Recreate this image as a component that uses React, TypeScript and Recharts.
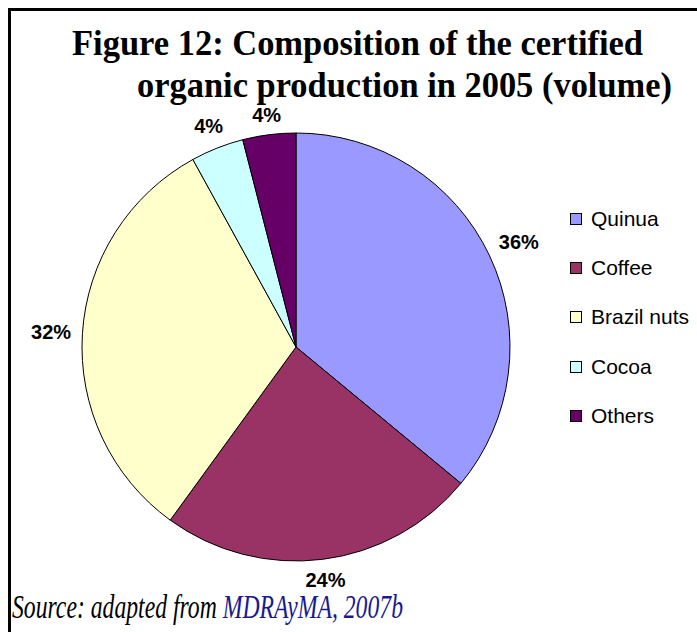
import { PieChart, Pie, Cell, Legend } from 'recharts';

const categories = ['Quinua', 'Coffee', 'Brazil nuts', 'Cocoa', 'Others'];
const shares = [36, 24, 32, 4, 4];
const sliceColors = ['#9999FF', '#993366', '#FFFFCC', '#CCFFFF', '#660066'];

const data = categories.map((name, i) => ({ name, value: shares[i] }));

const RAD = Math.PI / 180;
const LABEL_SIZE = 20;

// excel style: label box sits a fixed gap outside the rim
function renderLabel(props: any) {
  const { cx, cy, midAngle, outerRadius, value } = props;
  const c = Math.cos(-midAngle * RAD);
  const s = Math.sin(-midAngle * RAD);
  const text = `${value}%`;
  const halfW = ((text.length - 1) * 0.556 + 0.889) * LABEL_SIZE / 2;
  const halfH = 7.5;
  const d = outerRadius + 11 + Math.abs(c) * halfW + Math.abs(s) * halfH;
  return (
    <text
      x={cx + d * c}
      y={cy + d * s}
      textAnchor="middle"
      dominantBaseline="central"
      fontFamily="'Liberation Sans', Arial, sans-serif"
      fontWeight="bold"
      fontSize={LABEL_SIZE}
      fill="#000"
    >
      {text}
    </text>
  );
}

// legend keeps the slice order (recharts sorts payload by name otherwise)
function LegendBox() {
  return (
    <div>
      {categories.map((name, i) => (
        <div
          key={name}
          style={{ display: 'flex', alignItems: 'center', height: 49.3 }}
        >
          <span
            style={{
              width: 10,
              height: 10,
              border: '1px solid #000',
              background: sliceColors[i],
              marginRight: 9,
            }}
          />
          <span
            style={{
              fontFamily: "'Liberation Sans', Arial, sans-serif",
              fontSize: 21,
              color: '#000',
            }}
          >
            {name}
          </span>
        </div>
      ))}
    </div>
  );
}

export default function App() {
  return (
    <div
      style={{
        position: 'absolute',
        left: 0,
        top: 0,
        width: 697,
        height: 632,
        background: '#fff',
        overflow: 'hidden',
      }}
    >
      <PieChart width={697} height={632} margin={{ top: 0, right: 0, bottom: 0, left: 0 }}>
        <Pie
          data={data}
          dataKey="value"
          nameKey="name"
          cx={296}
          cy={347}
          outerRadius={214}
          startAngle={90}
          endAngle={-270}
          stroke="#000"
          strokeWidth={1}
          label={renderLabel}
          labelLine={false}
          isAnimationActive={false}
        >
          {data.map((d, i) => (
            <Cell key={d.name} fill={sliceColors[i]} />
          ))}
        </Pie>
        <Legend
          layout="vertical"
          content={<LegendBox />}
          wrapperStyle={{ position: 'absolute', left: 570, top: 194, width: 130 }}
        />
      </PieChart>

      {/* frame */}
      <div style={{ position: 'absolute', left: 8, top: 8, width: 689, height: 3, background: '#000' }} />
      <div style={{ position: 'absolute', left: 8, top: 8, width: 3, height: 624, background: '#000' }} />

      <svg
        width={697}
        height={632}
        style={{ position: 'absolute', left: 0, top: 0, pointerEvents: 'none' }}
      >
        <g fontFamily="'Liberation Serif', 'Times New Roman', serif" fontWeight="bold" fontSize={36} fill="#000">
          <text x={72} y={55} textLength={571} lengthAdjust="spacingAndGlyphs">
            Figure 12: Composition of the certified
          </text>
          <text x={137} y={97} textLength={535} lengthAdjust="spacingAndGlyphs">
            organic production in 2005 (volume)
          </text>
        </g>
        <text
          x={12}
          y={618}
          fontFamily="'Liberation Serif', 'Times New Roman', serif"
          fontStyle="italic"
          fontSize={34}
          fill="#000"
          textLength={391}
          lengthAdjust="spacingAndGlyphs"
        >
          Source: adapted from <tspan fill="#1a1a8f">MDRAyMA, 2007b</tspan>
        </text>
      </svg>
    </div>
  );
}
